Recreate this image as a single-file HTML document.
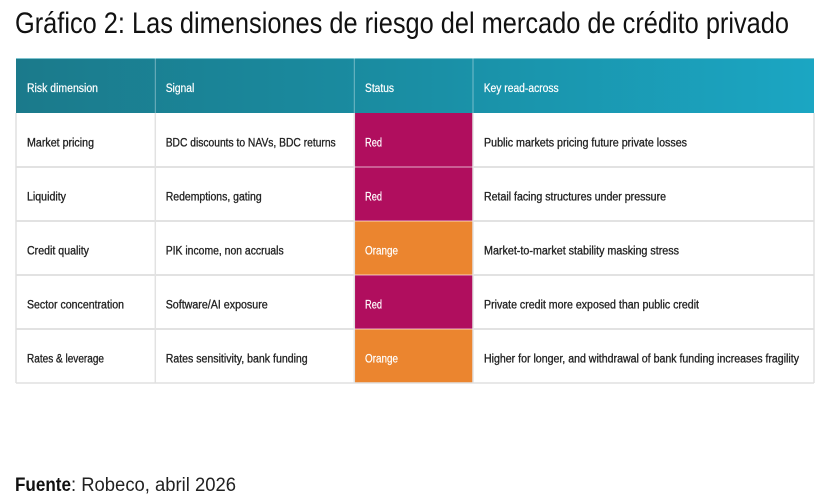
<!DOCTYPE html>
<html>
<head>
<meta charset="utf-8">
<style>
  html, body { margin:0; padding:0; background:#ffffff; }
  body { width:824px; height:503px; overflow:hidden; }
  svg { display:block; }
  .t { font-family: "Liberation Sans Narrow", "Liberation Sans", "DejaVu Sans Condensed", sans-serif; }
  .b { font-size:11.5px; fill:#222; stroke:#222; stroke-width:0.3px; }
  .h { font-size:11.5px; fill:#ffffff; stroke:#ffffff; stroke-width:0.2px; }
  .s { font-size:11.5px; fill:#ffffff; stroke:#ffffff; stroke-width:0.2px; }
</style>
</head>
<body>
<svg width="824" height="503" viewBox="0 0 824 503" xmlns="http://www.w3.org/2000/svg">
  <defs>
    <linearGradient id="hg" x1="0" y1="0" x2="1" y2="0">
      <stop offset="0" stop-color="#1b7a8b"/>
      <stop offset="0.45" stop-color="#1a8ca1"/>
      <stop offset="1" stop-color="#1ba6c3"/>
    </linearGradient>
  </defs>

  <!-- Title -->
  <text class="t" x="15" y="33" font-size="30" fill="#111" textLength="774" lengthAdjust="spacingAndGlyphs">Gráfico 2: Las dimensiones de riesgo del mercado de crédito privado</text>

  <!-- Table body background -->
  <rect x="16" y="58" width="798" height="325" fill="#ffffff"/>

  <!-- Header -->
  <rect x="16" y="58" width="798" height="55" fill="url(#hg)"/>
  <line x1="16" y1="58.5" x2="814" y2="58.5" stroke="#7fc4cf" stroke-width="1"/>

  <!-- Status cells -->
  <rect x="354.5" y="113" width="118.5" height="54" fill="#b00e5e"/>
  <rect x="354.5" y="167" width="118.5" height="54" fill="#b00e5e"/>
  <rect x="354.5" y="221" width="118.5" height="54" fill="#eb852f"/>
  <rect x="354.5" y="275" width="118.5" height="54" fill="#b00e5e"/>
  <rect x="354.5" y="329" width="118.5" height="54" fill="#eb852f"/>

  <!-- Row separators -->
  <g stroke="#e2e2e2" stroke-width="2">
    <line x1="16" y1="167" x2="354.5" y2="167"/>
    <line x1="473" y1="167" x2="814" y2="167"/>
    <line x1="16" y1="221" x2="354.5" y2="221"/>
    <line x1="473" y1="221" x2="814" y2="221"/>
    <line x1="16" y1="275" x2="354.5" y2="275"/>
    <line x1="473" y1="275" x2="814" y2="275"/>
    <line x1="16" y1="329" x2="354.5" y2="329"/>
    <line x1="473" y1="329" x2="814" y2="329"/>
  </g>
  <g stroke="rgba(255,255,255,0.45)" stroke-width="1.5">
    <line x1="354.5" y1="167" x2="473" y2="167"/>
    <line x1="354.5" y1="221" x2="473" y2="221"/>
    <line x1="354.5" y1="275" x2="473" y2="275"/>
    <line x1="354.5" y1="329" x2="473" y2="329"/>
  </g>

  <!-- Vertical column lines -->
  <g stroke="#e2e2e2" stroke-width="1.5">
    <line x1="155.3" y1="113" x2="155.3" y2="383"/>
    <line x1="354.3" y1="113" x2="354.3" y2="383"/>
    <line x1="473" y1="113" x2="473" y2="383"/>
  </g>
  <g stroke="rgba(255,255,255,0.4)" stroke-width="1">
    <line x1="155.3" y1="58" x2="155.3" y2="113"/>
    <line x1="354.3" y1="58" x2="354.3" y2="113"/>
    <line x1="473" y1="58" x2="473" y2="113"/>
  </g>

  <!-- Outer border (body) -->
  <g stroke="#e0e0e0" stroke-width="1.5" fill="none">
    <line x1="16" y1="113" x2="16" y2="383"/>
    <line x1="814" y1="113" x2="814" y2="383"/>
    <line x1="16" y1="383" x2="814" y2="383"/>
  </g>

  <!-- Header text -->
  <g class="t h">
    <text x="27" y="92" textLength="71" lengthAdjust="spacingAndGlyphs">Risk dimension</text>
    <text x="165.7" y="92" textLength="28.6" lengthAdjust="spacingAndGlyphs">Signal</text>
    <text x="365" y="92" textLength="29" lengthAdjust="spacingAndGlyphs">Status</text>
    <text x="483.7" y="92" textLength="75" lengthAdjust="spacingAndGlyphs">Key read-across</text>
  </g>

  <!-- Rows -->
  <g class="t b">
    <text x="27" y="146.5" textLength="67" lengthAdjust="spacingAndGlyphs">Market pricing</text>
    <text x="165.7" y="146.5" textLength="170" lengthAdjust="spacingAndGlyphs">BDC discounts to NAVs, BDC returns</text>
    <text x="484" y="146.5" textLength="203" lengthAdjust="spacingAndGlyphs">Public markets pricing future private losses</text>

    <text x="27" y="200.5" textLength="39" lengthAdjust="spacingAndGlyphs">Liquidity</text>
    <text x="165.7" y="200.5" textLength="96" lengthAdjust="spacingAndGlyphs">Redemptions, gating</text>
    <text x="484" y="200.5" textLength="182" lengthAdjust="spacingAndGlyphs">Retail facing structures under pressure</text>

    <text x="27" y="254.5" textLength="62" lengthAdjust="spacingAndGlyphs">Credit quality</text>
    <text x="165.7" y="254.5" textLength="118" lengthAdjust="spacingAndGlyphs">PIK income, non accruals</text>
    <text x="484" y="254.5" textLength="195" lengthAdjust="spacingAndGlyphs">Market-to-market stability masking stress</text>

    <text x="27" y="308.5" textLength="97" lengthAdjust="spacingAndGlyphs">Sector concentration</text>
    <text x="165.7" y="308.5" textLength="102" lengthAdjust="spacingAndGlyphs">Software/AI exposure</text>
    <text x="484" y="308.5" textLength="215" lengthAdjust="spacingAndGlyphs">Private credit more exposed than public credit</text>

    <text x="27" y="362.5" textLength="77" lengthAdjust="spacingAndGlyphs">Rates &amp; leverage</text>
    <text x="165.7" y="362.5" textLength="142" lengthAdjust="spacingAndGlyphs">Rates sensitivity, bank funding</text>
    <text x="484" y="362.5" textLength="315" lengthAdjust="spacingAndGlyphs">Higher for longer, and withdrawal of bank funding increases fragility</text>
  </g>

  <!-- Status text -->
  <g class="t s">
    <text x="365" y="146.5" textLength="17" lengthAdjust="spacingAndGlyphs">Red</text>
    <text x="365" y="200.5" textLength="17" lengthAdjust="spacingAndGlyphs">Red</text>
    <text x="365" y="254.5" textLength="33" lengthAdjust="spacingAndGlyphs">Orange</text>
    <text x="365" y="308.5" textLength="17" lengthAdjust="spacingAndGlyphs">Red</text>
    <text x="365" y="362.5" textLength="33" lengthAdjust="spacingAndGlyphs">Orange</text>
  </g>

  <!-- Footer -->
  <text x="15" y="491" font-family="Liberation Sans, sans-serif" font-size="19" font-weight="bold" fill="#111" textLength="56" lengthAdjust="spacingAndGlyphs">Fuente</text>
  <text x="71" y="491" font-family="Liberation Sans, sans-serif" font-size="19" fill="#222" textLength="165" lengthAdjust="spacingAndGlyphs">: Robeco, abril 2026</text>
</svg>
</body>
</html>
